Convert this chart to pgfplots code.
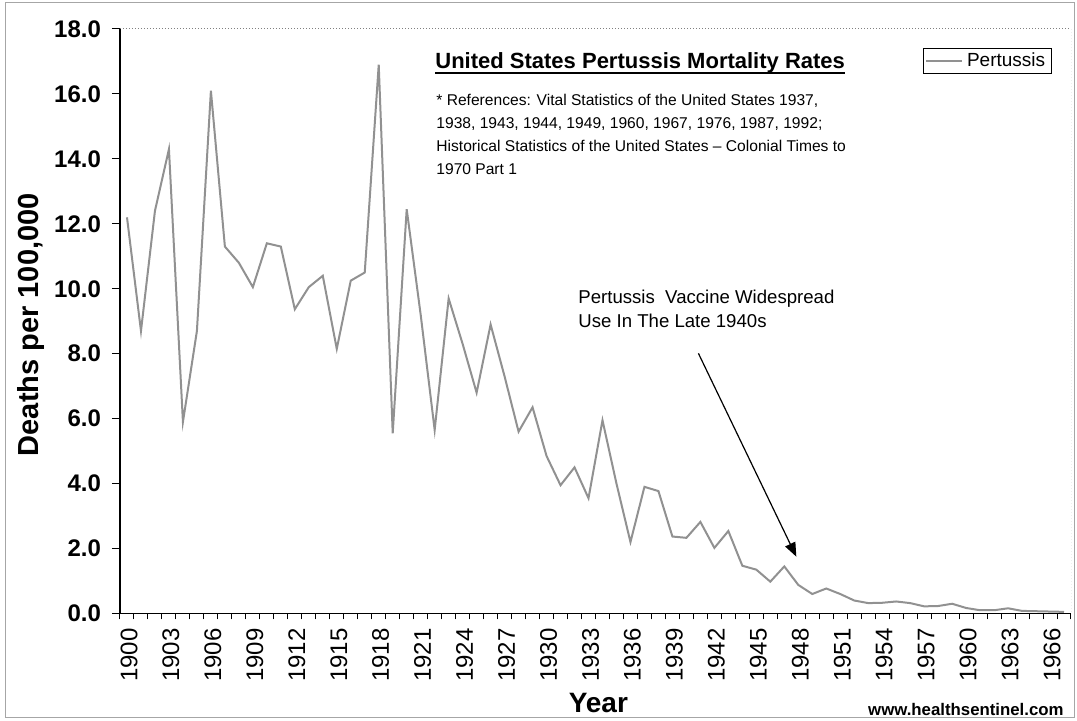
\documentclass[border=0pt]{standalone}
\usepackage{pgfplots}
\pgfplotsset{compat=1.18}
\usepackage{fontspec}
\setmainfont{Liberation Sans}
\usetikzlibrary{arrows.meta}
\definecolor{linegray}{RGB}{145,145,145}

\begin{document}
\begin{tikzpicture}
\useasboundingbox (-60pt,-53.75pt) rectangle (478.5pt,306.75pt);
\draw[gray!70, line width=0.5pt] (-57pt,-52.25pt) rectangle (477pt,305.25pt);
\begin{axis}[
  at={(0pt,0pt)}, anchor=south west,
  scale only axis, width=475.5pt, height=292.25pt,
  xmin=1899.5, xmax=1967.5, ymin=0, ymax=18,
  axis x line*=bottom, axis y line*=left,
  axis line style={black, line width=0.6pt},
  tick align=outside,
  xtick={1900,1903,...,1966},
  minor xtick={1899.5,1900.5,...,1967.5},
  major x tick style={draw=none},
  minor tick length=3pt,
  major tick length=4pt,
  ytick={0,2,...,18},
  tick style={black, line width=0.5pt},
  /pgf/number format/assume math mode=true,
  xticklabel style={rotate=90, anchor=east, yshift=-1pt, font=\fontsize{12}{12}\selectfont, /pgf/number format/1000 sep={}},
  yticklabel style={xshift=-2pt, font=\bfseries\fontsize{12}{12}\selectfont, /pgf/number format/.cd, fixed, fixed zerofill, precision=1},
  xlabel={Year},
  xlabel style={at={(axis description cs:0.503,-0.153)}, anchor=center, font=\bfseries\fontsize{14}{14}\selectfont},
  ylabel={Deaths per 100,000},
  ylabel style={at={(axis description cs:-0.0936,0.494)}, anchor=center, font=\bfseries\fontsize{14.5}{14.5}\selectfont},
  legend style={at={(axis description cs:0.9797,0.967)}, anchor=north east, draw=black, line width=0.5pt, font=\fontsize{9.5}{10}\selectfont, inner xsep=1pt, inner ysep=0pt, cells={anchor=west, inner ysep=1.5pt, inner xsep=1.5pt}},
  legend image code/.code={\draw[#1] (0pt,0pt) -- (18pt,0pt);},
]
\draw[gray, densely dotted, line width=0.5pt] (rel axis cs:0,1) -- (rel axis cs:1,1) -- (rel axis cs:1,0);
\addplot[color=linegray, line width=1pt, mark=none] coordinates {
(1900,12.2) (1901,8.7) (1902,12.4) (1903,14.3) (1904,5.9) (1905,8.7)
(1906,16.1) (1907,11.3) (1908,10.8) (1909,10.05) (1910,11.4) (1911,11.3)
(1912,9.37) (1913,10.05) (1914,10.4) (1915,8.15) (1916,10.25) (1917,10.5)
(1918,16.9) (1919,5.55) (1920,12.45) (1921,9.2) (1922,5.65) (1923,9.7)
(1924,8.3) (1925,6.8) (1926,8.9) (1927,7.3) (1928,5.6) (1929,6.35)
(1930,4.85) (1931,3.95) (1932,4.5) (1933,3.55) (1934,5.95) (1935,4.0)
(1936,2.2) (1937,3.9) (1938,3.77) (1939,2.37) (1940,2.33) (1941,2.82)
(1942,2.02) (1943,2.54) (1944,1.47) (1945,1.35) (1946,0.98) (1947,1.45)
(1948,0.88) (1949,0.6) (1950,0.77) (1951,0.6) (1952,0.4) (1953,0.32)
(1954,0.33) (1955,0.37) (1956,0.32) (1957,0.22) (1958,0.23) (1959,0.3)
(1960,0.17) (1961,0.1) (1962,0.1) (1963,0.16) (1964,0.08) (1965,0.07)
(1966,0.06) (1967,0.05)
};
\addlegendentry{Pertussis}
\draw[black, line width=0.6pt, -{Triangle[length=7pt,width=5.5pt]}] (axis cs:1940.86,8.01) -- (axis cs:1947.86,1.75);
\end{axis}
\node[anchor=west, inner sep=0, font=\bfseries\fontsize{11}{11}\selectfont] (T) at (157.5pt,275.25pt) {United States Pertussis Mortality Rates};
\draw[line width=1pt] ([yshift=-2pt]T.base west) -- ([yshift=-2pt]T.base east);
\node[anchor=north west, inner sep=0, align=left, font=\fontsize{7.8}{11.5}\selectfont] at (158pt,260pt) {* References: Vital Statistics of the United States 1937,\\1938, 1943, 1944, 1949, 1960, 1967, 1976, 1987, 1992;\\Historical Statistics of the United States -- Colonial Times to\\1970 Part 1};
\node[anchor=north west, inner sep=0, align=left, font=\fontsize{9.3}{12}\selectfont] at (229pt,161.75pt) {Pertussis\ \ Vaccine Widespread\\Use In The Late 1940s};
\node[anchor=east, inner sep=0, font=\bfseries\fontsize{8.4}{9}\selectfont] at (472pt,-48.25pt) {www.healthsentinel.com};
\end{tikzpicture}
\end{document}
